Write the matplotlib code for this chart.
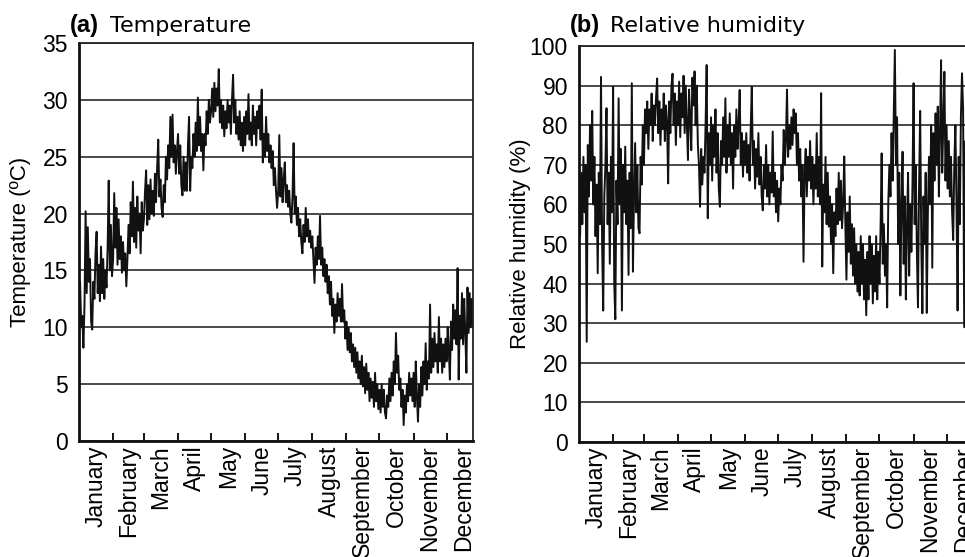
import numpy as np
import matplotlib
matplotlib.use("Agg")
import matplotlib.pyplot as plt
import matplotlib.ticker as ticker

plt.rcParams["font.family"] = ["Liberation Sans", "DejaVu Sans"]

# ── Data (daily values) ──────────────────────────────────────────────────────
MONTHS = ["January", "February", "March", "April", "May", "June", "July",
          "August", "September", "October", "November", "December"]
MONTH_DAYS = [31, 28, 31, 30, 31, 30, 31, 31, 30, 31, 30, 31]

temperature = [
    # Jan
    12, 14, 10, 11, 8.2, 12, 20.2, 13, 18.8, 14, 16, 10.5, 9.8, 14, 12.5, 16.5,
    18.4, 13, 15.5, 12.3, 17.1, 13, 16, 12.5, 15, 13.5, 17, 22.9, 15, 19, 14.5,
    # Feb
    16, 21.8, 17, 20.5, 15.5, 19.5, 16, 18, 14.8, 17.5, 15, 16.5, 13.6, 16,
    19, 16.5, 21, 18, 22.8, 17.5, 20.5, 17, 21.5, 18.5, 20, 16.5, 21, 18.5,
    # Mar
    19.5, 22, 23.8, 19, 22.5, 19.5, 23, 20, 22, 19.8, 23.5, 21, 24, 26.5, 21.5,
    23, 20.5, 19.7, 22.5, 21, 25, 23, 26, 24, 28.5, 25, 28.7, 24.5, 26, 23.5, 25.5,
    # Apr
    27, 23.5, 26, 22.5, 21.6, 25, 22, 24.5, 22, 26, 28.5, 22, 25, 24, 27,
    25, 28, 25.5, 30.2, 26, 28.5, 25.5, 27, 23.8, 27, 26, 29, 27, 30, 28,
    # May
    29, 31, 28.5, 31.5, 29, 31, 29.5, 32.7, 28, 30, 27.5, 29.5, 26.8, 29, 27.5,
    30, 28, 29.5, 27, 30, 32.2, 28, 30, 27, 28.5, 26.5, 29, 26, 28, 25.5, 28.5,
    # Jun
    26, 29, 27, 30.5, 26.5, 28, 26, 29.5, 27, 28.5, 26, 29, 27.5, 29.5, 26.5,
    30.9, 24.5, 27, 25, 28.5, 25.5, 27, 24.5, 26, 24, 25.5, 22.5, 24, 22, 20.5,
    # Jul
    22, 26.9, 21.5, 24, 21, 23, 24.5, 21, 22.5, 20.6, 22, 20, 19.2, 21.5, 26.2,
    20, 21.5, 19, 20.5, 18, 19.5, 17.5, 16.5, 19, 17.5, 20.5, 18, 19.5, 17.5, 18.5, 17,
    # Aug
    18, 16, 13.9, 17, 15.5, 18, 16, 19.8, 15.5, 17, 14.5, 16, 14, 15.5, 13,
    14.5, 12, 14, 11, 12.5, 9.5, 12, 10.5, 13, 11, 12.5, 10.5, 13.8, 10.5, 11.5, 9,
    # Sep
    10.5, 8, 10, 7.8, 9.5, 7, 8.5, 6.5, 8.2, 6, 7.8, 5.5, 7, 5, 7.5,
    4.8, 6.5, 4.2, 6.8, 4.5, 6, 3.5, 5.5, 3.8, 5.2, 3, 6, 3.5, 5, 2.8,
    # Oct
    4.5, 2.5, 5, 3, 4.5, 2.5, 2, 4, 3, 5.5, 3.5, 6, 4, 7, 5, 9.5,
    6, 7.5, 4.5, 5.5, 3, 4.5, 1.4, 4, 2.5, 5, 3.5, 6, 4, 5.5, 3.5,
    # Nov
    6, 3, 7, 4, 1.7, 5, 3, 6.5, 4, 7, 5, 8.6, 4.5, 7, 5.5,
    12, 6, 9, 6.5, 9.5, 7, 8.5, 6, 10.9, 7, 9, 6, 8.5, 6.5, 9,
    # Dec
    7, 10, 8, 5.4, 10.5, 8, 12, 9, 11.5, 8.5, 15.2, 5.4, 11,
    9, 13, 8.5, 12.5, 9.5, 6, 13.5, 9.5, 13, 10, 12.5, 10,
]

humidity = [
    # Jan
    60, 52, 68, 55, 72, 58, 70, 25.3, 75, 62, 80, 66, 83.6, 60, 72, 52,
    65, 42.6, 68, 55, 92.2, 50, 33.2, 62, 70, 84.3, 55, 68, 45, 72, 58,
    # Feb
    89.7, 40, 31, 66, 55, 86.8, 60, 74, 33.2, 70, 58, 74.6, 55, 66,
    42.2, 68, 54, 90.6, 43, 62, 75.5, 58, 70, 54, 52.7, 72, 65, 80,
    # Mar
    70, 84, 78, 86, 74, 84, 80, 88, 76, 85, 80, 87, 91.8, 78, 86, 75,
    84, 79, 88, 76, 85, 81, 65.3, 86, 78, 90, 93, 80, 88, 75, 86,
    # Apr
    80, 91, 77, 88, 82, 92.5, 78, 90, 80, 71.2, 89, 82, 73.7, 92, 85,
    93.6, 80, 90, 75, 70, 59.4, 74, 65, 72, 68, 80, 95.2, 56.5, 78, 70,
    # May
    82, 66, 80, 72, 84, 68, 78, 64, 59.4, 76, 70, 82, 72, 86.8, 68, 80,
    72, 83, 70, 78, 64, 80, 72, 84, 74, 80, 88.9, 70, 78, 67, 76,
    # Jun
    70, 78, 68, 75, 66, 79, 89.7, 70, 76, 64, 74, 67, 78, 65, 72,
    62, 58.5, 70, 64, 75, 62, 70, 60, 68, 63, 78.4, 62, 68, 58, 66,
    # Jul
    55.7, 64, 60, 70, 66, 78.8, 70, 76, 89, 72, 80, 74, 82, 75, 84, 78,
    83, 70, 78, 66, 74, 62, 70, 45.5, 68, 74, 62, 72, 66, 76, 64,
    # Aug
    72, 60, 70, 64, 78, 62, 72, 60, 88.1, 44.3, 65, 58, 72, 55, 68, 54.4,
    62, 50, 60, 42.6, 58, 52, 64, 55, 68, 56, 66, 54, 60, 72.1, 55,
    # Sep
    41, 58, 48, 62, 45, 55, 42, 54, 40, 50, 38, 48, 37, 52, 40,
    50, 36, 46, 32, 48, 36, 52, 40, 50, 35, 47, 38, 52, 36, 48,
    # Oct
    40, 54, 72.9, 45, 55, 42, 50, 34, 60, 70, 62, 78, 66, 82, 99, 70,
    82, 50, 68, 37, 60, 73.3, 45, 62, 36, 55, 68, 42, 60, 48, 65,
    # Nov
    90.6, 55, 70, 48, 34, 65, 83.6, 50, 32.5, 62, 50, 68, 32.6, 58, 72,
    60, 80, 44, 78, 66, 83, 70, 84.7, 62, 78, 96.4, 68, 80, 93.5, 66,
    # Dec
    80, 64, 76, 62, 72, 58, 51, 70, 80, 60, 33.2, 72, 55,
    82, 93.1, 84, 29, 76, 62, 80, 58, 74, 64, 78, 66,
]

PANELS = [
    # (values, ymax, ystep, ylabel, letter, title, axes rect in px: left, top, width, height)
    (temperature, 35, 5, "Temperature (ºC)", "(a)", "Temperature", (79, 43, 394, 398)),
    (humidity, 100, 10, "Relative humidity (%)", "(b)", "Relative humidity", (579, 46, 394, 396)),
]

W, H = 965, 557


def main():
    days = np.arange(len(temperature))
    bounds = np.cumsum(MONTH_DAYS)[:-1]
    mids = np.cumsum(MONTH_DAYS) - np.array(MONTH_DAYS) / 2.0

    fig = plt.figure(figsize=(W / 100, H / 100), dpi=100)

    for values, ymax, ystep, ylabel, letter, title, (l, t, w, h) in PANELS:
        ax = fig.add_axes([l / W, (H - t - h) / H, w / W, h / H])
        ax.plot(days, values, color="#111111", linewidth=1.4)

        ax.set_xlim(0, len(values) - 1)
        ax.set_ylim(0, ymax)
        ax.yaxis.set_major_locator(ticker.MultipleLocator(ystep))
        ax.grid(axis="y", color="#3c3c3c", linewidth=1.3)
        ax.set_axisbelow(True)
        ax.tick_params(axis="y", length=0, pad=8, labelsize=16.5)

        ax.set_xticks(bounds)
        ax.set_xticks(mids, minor=True)
        ax.set_xticklabels(MONTHS, minor=True, rotation=90, fontsize=16.5)
        ax.tick_params(axis="x", which="major", direction="in", length=6,
                       width=1.3, labelbottom=False)
        ax.tick_params(axis="x", which="minor", length=0, pad=3)

        for side in ["top", "right"]:
            ax.spines[side].set_linewidth(1.3)
            ax.spines[side].set_color("#222222")
        for side in ["left", "bottom"]:
            ax.spines[side].set_linewidth(2.0)
            ax.spines[side].set_color("#111111")

        ax.set_ylabel(ylabel, fontsize=16)
        ax.yaxis.set_label_coords(-0.122, 0.5)

        # panel title: bold letter + plain text
        fig.text((l - 9) / W, (H - 32) / H, letter, fontsize=17, fontweight="bold")
        fig.text((l + 31) / W, (H - 32) / H, title, fontsize=16, family="DejaVu Sans")

    fig.savefig("out.png", dpi=100)
    plt.close(fig)


if __name__ == "__main__":
    main()
